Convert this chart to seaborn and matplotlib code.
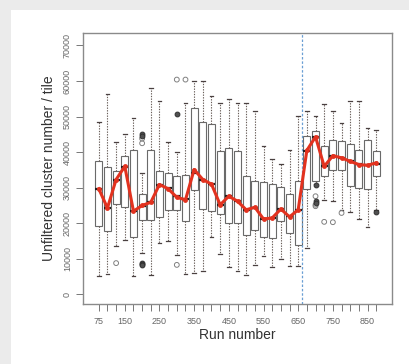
import numpy as np
import pandas as pd
import matplotlib
matplotlib.use('Agg')
import matplotlib.pyplot as plt
from matplotlib.patches import Rectangle
import seaborn as sns

# ---------------------------------------------------------------
# data (one box per run, step 25)
# ---------------------------------------------------------------
runs = [75, 100, 125, 150, 175, 200, 225, 250, 275, 300, 325,
        350, 375, 400, 425, 450, 475, 500, 525, 550, 575, 600,
        625, 650, 675, 700, 725, 750, 775, 800, 825, 850, 875]

whisk_lo = [5250, 5800, 13500, 15200, 5250, 11500, 5500, 14400, 14900, 11200, 5800,
            6000, 6500, 16100, 11400, 7600, 6500, 5500, 8300, 10900, 7600, 9900,
            8100, 8100, 13000, 31000, 26600, 26200, 23600, 23200, 21200, 18900, 23800]
q1 = [19100, 17900, 25400, 24500, 16100, 21000, 21000, 21800, 23800, 23800, 20700,
      29400, 24100, 23400, 22600, 20100, 20100, 16800, 18200, 16000, 15900, 20700,
      17300, 14000, 29600, 31800, 33400, 34900, 35100, 30400, 29900, 29600, 33400]
median = [29700, 24300, 32300, 35800, 23400, 24800, 25900, 30900, 29900, 27600, 26800,
          34000, 32300, 31000, 25200, 27600, 26200, 23800, 24300, 21200, 21500, 24000,
          22000, 23800, 40200, 44200, 36000, 39000, 38400, 37600, 36700, 36300, 36800]
q3 = [37600, 35800, 34700, 38800, 40700, 28200, 40500, 34600, 34100, 33400, 33700,
      52300, 48400, 48000, 40200, 41200, 40200, 33200, 31800, 31500, 31100, 30200,
      28200, 31800, 44500, 45900, 41800, 43500, 43100, 42400, 40700, 43500, 40200]
whisk_hi = [48400, 56400, 42900, 45000, 49600, 34100, 58000, 54300, 42900, 40100, 53700,
            60000, 60000, 55700, 53700, 55000, 53800, 53800, 51500, 41800, 38100, 36800,
            40700, 50300, 51500, 50300, 53400, 51500, 48200, 54500, 54500, 46800, 46300]

# mean per run (red line)
mean_val = [29700, 24300, 32300, 36000, 23400, 25000, 25900, 30900, 29700, 27300, 26600,
            35100, 32300, 31000, 25200, 27600, 26200, 23800, 24500, 21200, 21500, 24000,
            21800, 23800, 40500, 44300, 36000, 39000, 38400, 37400, 36500, 36300, 37000]

# outliers
out_run = [125, 200, 200, 200, 200, 200, 200, 200, 300, 300, 300, 325,
           700, 700, 700, 700, 700, 700, 725, 750, 775, 875]
out_val = [8800, 45000, 44500, 43800, 42500, 8800, 8500, 8300, 60400, 50600, 8300, 60400,
           30900, 27600, 26200, 25700, 25200, 24800, 20400, 20300, 22900, 23200]
out_dark = [0, 1, 1, 0, 0, 1, 1, 1, 0, 1, 0, 0,
            1, 0, 1, 1, 0, 0, 0, 0, 0, 1]

label_runs = [75, 150, 250, 350, 450, 550, 650, 750, 850]
yticks = [0, 10000, 20000, 30000, 40000, 50000, 60000, 70000]
split_run = 660

# long form table: the five stats of each box as its "observations"
rows = []
for i, r in enumerate(runs):
    for v in (whisk_lo[i], q1[i], median[i], q3[i], whisk_hi[i]):
        rows.append({'run': r, 'value': v})
df = pd.DataFrame(rows)
outl = pd.DataFrame({'run': out_run, 'value': out_val, 'dark': out_dark})

plt.rcParams['font.family'] = ['Liberation Sans', 'DejaVu Sans']

# ---------------------------------------------------------------
# plot
# ---------------------------------------------------------------
fig = plt.figure(figsize=(4.09, 3.64), dpi=100)
fig.patch.set_facecolor('#ebebeb')
fig.add_artist(Rectangle((11 / 409, -0.05), 1, 1.05 - 10 / 364, transform=fig.transFigure,
                         facecolor='white', edgecolor='none', zorder=-10))
ax = fig.add_axes([83 / 409, 60 / 364, 309 / 409, 271 / 364])
ax.set_facecolor('white')

sns.boxplot(data=df, x='run', y='value', orient='x', native_scale=True,
            whis=(0, 100), width=0.8, color='white', linecolor='#6a6a6a',
            linewidth=0.8, fliersize=0, ax=ax,
            whiskerprops={'linestyle': (0, (1.2, 1.2)), 'color': '#6a5f5a', 'linewidth': 0.8},
            capprops={'color': '#4a4040', 'linewidth': 0.9},
            medianprops={'color': '#202020', 'linewidth': 1.6})

sns.scatterplot(data=outl[outl['dark'] == 0], x='run', y='value', s=12,
                facecolor='none', edgecolor='#808080', linewidth=0.7, ax=ax, zorder=3)
sns.scatterplot(data=outl[outl['dark'] == 1], x='run', y='value', s=12,
                color='#505050', edgecolor='#303030', linewidth=0.7, ax=ax, zorder=3)

sns.lineplot(x=runs, y=mean_val, color='#e2321f', linewidth=2.2, marker='o',
             markersize=3.5, markeredgewidth=0, ax=ax, zorder=4)

ax.axvline(split_run, color='#6a9fd4', linestyle=(0, (2, 1.5)), linewidth=0.9, zorder=2)

ax.set_xlim(75 - 1.82 * 25, 875 + 1.82 * 25)
ax.set_ylim(-2700, 73500)

ax.set_xticks(runs)
ax.set_xticklabels([str(r) if r in label_runs else '' for r in runs])
ax.set_yticks(yticks)
ax.set_yticklabels([str(t) for t in yticks], rotation=90, va='center')
ax.tick_params(axis='both', colors='#777777', labelcolor='#666666',
               labelsize=6.5, length=5, width=0.7)
ax.tick_params(axis='x', pad=4)
ax.tick_params(axis='y', pad=3)

ax.set_xlabel('Run number', fontsize=10, color='#333333', labelpad=2)
ax.set_ylabel('Unfiltered cluster number / tile', fontsize=10, color='#333333', labelpad=5)

for s in ax.spines.values():
    s.set_color('#8a8a8a')
    s.set_linewidth(1.0)

fig.savefig('out.png', dpi=100, facecolor=fig.get_facecolor())
plt.close(fig)
